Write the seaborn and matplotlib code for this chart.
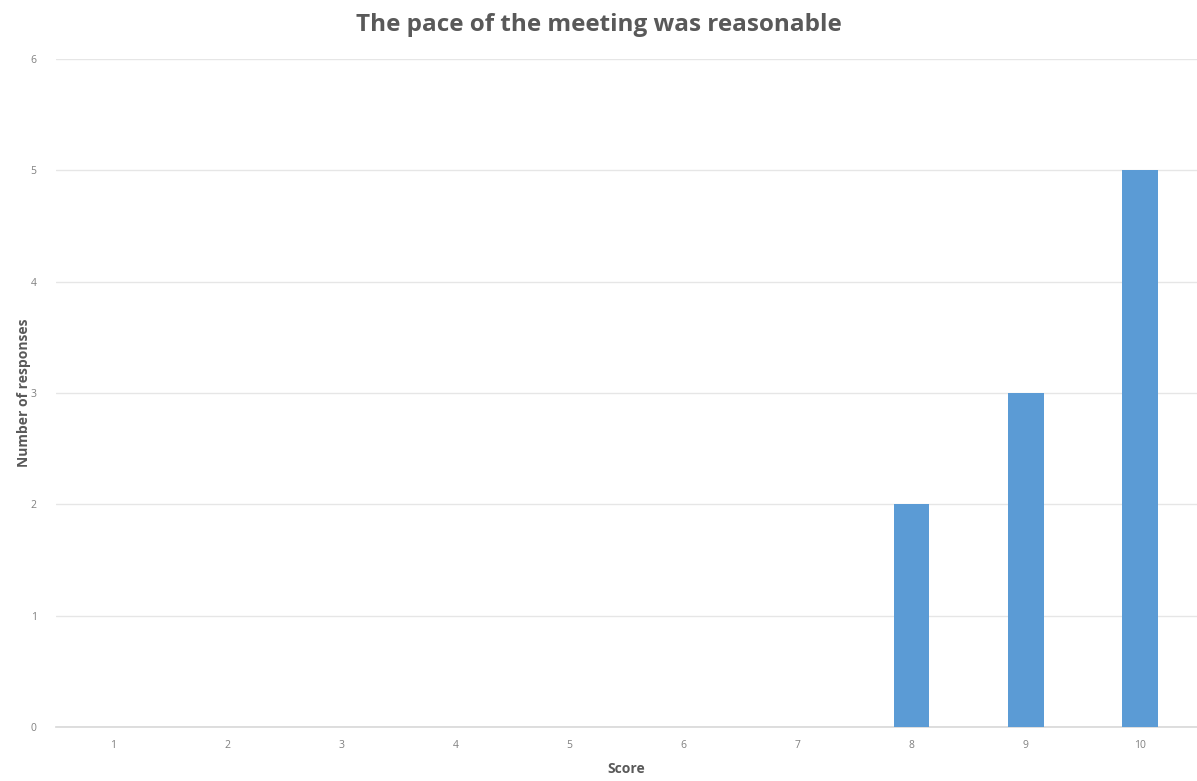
import matplotlib
matplotlib.use("Agg")
import matplotlib.pyplot as plt
import seaborn as sns
import pandas as pd

scores = ["1", "2", "3", "4", "5", "6", "7", "8", "9", "10"]
responses = [0, 0, 0, 0, 0, 0, 0, 2, 3, 5]
y_ticks = [0, 1, 2, 3, 4, 5, 6]

sns.set_theme(style="white")
plt.rcParams['font.family'] = ['Open Sans', 'DejaVu Sans']

df = pd.DataFrame({"Score": scores, "Responses": responses})

fig = plt.figure(figsize=(11.97, 7.81), dpi=100)
ax = fig.add_axes([0.0468, 0.0691, 0.9532, 0.8554])

sns.barplot(data=df, x="Score", y="Responses", order=scores, color="#5B9BD5",
            width=0.31, saturation=1, linewidth=0, ax=ax, zorder=3)

ax.set_ylim(0, 6)
ax.set_yticks(y_ticks)
ax.grid(axis="y", color="#e6e6e6", linewidth=1, zorder=0)
for s in ["top", "right", "left"]:
    ax.spines[s].set_visible(False)
ax.spines["bottom"].set_color("#d9d9d9")
ax.tick_params(axis="both", length=0, labelsize=7.5, colors="#808080")
ax.tick_params(axis="y", pad=14)
ax.tick_params(axis="x", pad=9)

ax.set_xlabel("Score", fontsize=10, fontweight="bold", color="#595959", labelpad=8)
ax.set_ylabel("Number of responses", fontsize=10, fontweight="bold", color="#595959", labelpad=0)
fig.suptitle("The pace of the meeting was reasonable", fontsize=17.5, fontweight="bold",
             color="#595959", y=0.983)

fig.savefig("out.png", dpi=100)
